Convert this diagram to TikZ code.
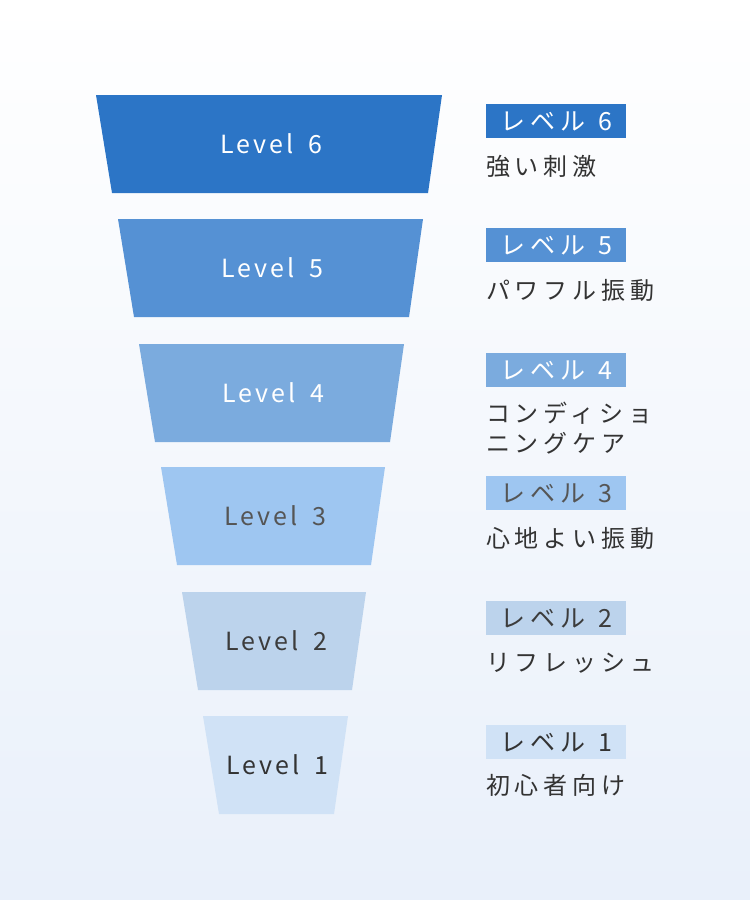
\documentclass[tikz,border=0pt]{standalone}
\usepackage{fontspec}
\setmainfont{Noto Sans CJK JP}
\newfontfamily\jpfont[LetterSpace=20]{Noto Sans CJK JP}
\newfontfamily\lvfont[LetterSpace=12]{Noto Sans CJK JP}
\usepackage{tikz}
\usetikzlibrary{positioning}

\definecolor{lv6}{HTML}{2C75C6}
\definecolor{lv5}{HTML}{5591D4}
\definecolor{lv4}{HTML}{7BABDE}
\definecolor{lv3}{HTML}{9EC6F1}
\definecolor{lv2}{HTML}{BCD3EC}
\definecolor{lv1}{HTML}{D0E2F6}
\definecolor{bgblue}{HTML}{E9F0FA}
\definecolor{ink}{HTML}{333333}
\definecolor{dark}{HTML}{3C3C3C}
\definecolor{mute}{HTML}{555555}

\begin{document}
\begin{tikzpicture}[
  x=1pt, y=-1pt,
  font=\jpfont\fontsize{24}{30}\selectfont,
  tier/.style={fill=#1},
  tierlabel/.style={font=\lvfont\fontsize{25}{30}\selectfont},
  tag/.style={fill=#1, minimum width=140pt, minimum height=34pt,
              inner sep=0pt, anchor=north west,
              font=\jpfont\fontsize{25}{30}\selectfont},
  desc/.style={anchor=west, align=left, inner sep=0pt, text=ink},
]
  % background
  \shade[top color=white, bottom color=bgblue] (0,0) rectangle (750,900);
  \useasboundingbox (0,0) rectangle (750,900);

  % funnel tiers and their labels
  \foreach \n/\ty/\lx/\rx/\fc/\tc/\dy/\desc in {
      6/95/96/442/lv6/white/71/強い刺激,
      5/219/118/423/lv5/white/71/パワフル振動,
      4/344/139/404/lv4/white/84/{コンディショ\\ニングケア},
      3/467/161/385/lv3/mute/71/心地よい振動,
      2/592/182/366/lv2/dark/71/リフレッシュ,
      1/716/203/348/lv1/ink/69/初心者向け} {
    \fill[tier=\fc] (\lx,\ty) -- (\rx,\ty) -- (\rx-14,\ty+98)
      -- (\lx+16,\ty+98) -- cycle;
    \pgfmathsetmacro\cx{(\lx+\rx+4)/2}
    \node[tierlabel, text=\tc] (lv\n) at (\cx,\ty+49) {Level\hspace{0.6em}\n};
    \node[tag=\fc, text=\tc] (tag\n) at (486,\ty+9)
      {レベル\hspace{0.5em}\n};
    \node[desc] (desc\n) at (486,\ty+\dy) {\desc};
  }
\end{tikzpicture}
\end{document}
